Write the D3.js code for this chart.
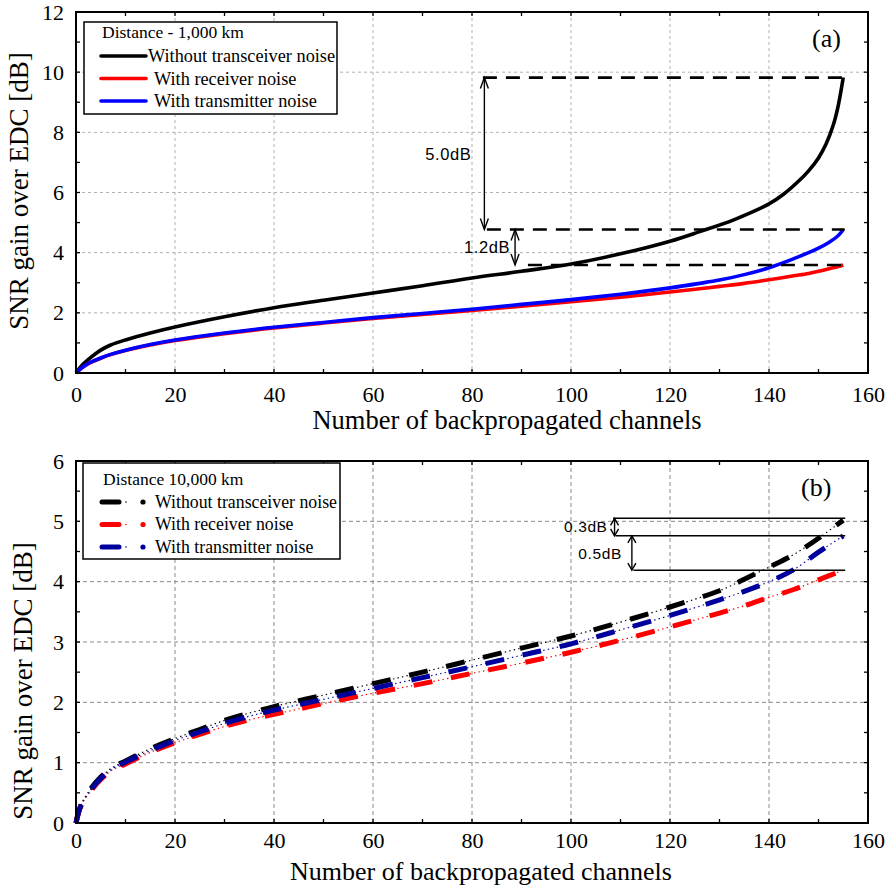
<!DOCTYPE html>
<html><head><meta charset="utf-8">
<script src="https://cdn.jsdelivr.net/npm/d3@7"></script>
<style>body{margin:0;background:#fff}svg{display:block}</style>
</head><body><svg id="c" width="891" height="888"></svg>
<script>
// ---------- Data ----------
// Panel (a): Distance 1,000 km
const xAWithout = [0,1,2,3,5,7,10,15,20,30,40,50,60,70,80,90,100,110,120,126,133,140,143,146,148,150,151.5,153,154,155];
const aWithout  = [0,0.22,0.38,0.52,0.76,0.93,1.1,1.33,1.53,1.87,2.17,2.42,2.66,2.9,3.16,3.38,3.62,3.96,4.38,4.7,5.1,5.62,5.95,6.38,6.72,7.15,7.6,8.25,8.9,9.82];
const xANoise = [0,1,2,3,5,7,10,15,20,30,40,50,60,70,80,90,100,110,120,126,130,135,140,145,148,150,152,154,155];
const aReceiver    = [0,0.15,0.26,0.35,0.49,0.61,0.75,0.93,1.08,1.31,1.5,1.66,1.81,1.95,2.08,2.22,2.37,2.52,2.69,2.8,2.88,2.98,3.1,3.23,3.31,3.38,3.46,3.54,3.59];
const aTransmitter = [0,0.15,0.27,0.36,0.5,0.62,0.76,0.95,1.1,1.33,1.52,1.68,1.84,1.98,2.12,2.28,2.44,2.62,2.83,2.98,3.09,3.27,3.5,3.8,4.0,4.15,4.33,4.57,4.77];

// Panel (b): Distance 10,000 km
const xB = [0,1,3,5,7,10,15,20,25,30,35,40,50,60,70,80,90,100,110,120,130,135,140,145,150,155];
const bWithout     = [0,0.3,0.57,0.76,0.9,1.03,1.23,1.4,1.55,1.7,1.82,1.93,2.12,2.31,2.5,2.7,2.9,3.1,3.33,3.58,3.85,4.04,4.24,4.45,4.72,5.02];
const bReceiver    = [0,0.28,0.53,0.72,0.86,0.98,1.17,1.33,1.47,1.6,1.71,1.8,1.98,2.15,2.31,2.48,2.65,2.83,3.03,3.25,3.48,3.6,3.74,3.87,4.03,4.19];
const bTransmitter = [0,0.29,0.55,0.74,0.88,1.01,1.2,1.37,1.51,1.65,1.77,1.87,2.05,2.23,2.41,2.59,2.78,2.97,3.2,3.44,3.7,3.84,4.0,4.2,4.49,4.76];

const seriesNames = ["Without transceiver noise","With receiver noise","With transmitter noise"];
const xTicks = [0,20,40,60,80,100,120,140,160];
const yTicksA = [0,2,4,6,8,10,12];
const yTicksB = [0,1,2,3,4,5,6];

// annotation levels (dB) and x positions
const annA = {levels:[9.82,4.77,3.59], starts:[82.2,83,91.3], end:155.3, arrows:[{x:82.5,from:9.82,to:4.77,label:"5.0dB"},{x:88.7,from:4.77,to:3.59,label:"1.2dB"}]};
const annB = {levels:[5.05,4.76,4.19], starts:[108.5,109,112.6], end:155.4, arrows:[{x:108.8,from:5.05,to:4.76,label:"0.3dB"},{x:112.3,from:4.76,to:4.19,label:"0.5dB"}]};

// ---------- Drawing ----------
const svg = d3.select("#c");
const serif = "'Liberation Serif','Times New Roman',serif";
const sans = "'Liberation Sans',Arial,sans-serif";

function panel(cfg){
  const x = d3.scaleLinear().domain([0,160]).range([76,868]);
  const y = d3.scaleLinear().domain([0,cfg.ymax]).range([cfg.bottom,cfg.top]);
  const g = svg.append("g");
  const grid = g.append("g").attr("stroke",cfg.gridColor).attr("stroke-width",1).attr("stroke-dasharray",cfg.gridDash).attr("fill","none");
  xTicks.slice(1,-1).forEach(v=>grid.append("line").attr("x1",x(v)).attr("x2",x(v)).attr("y1",cfg.top).attr("y2",cfg.bottom));
  cfg.yTicks.slice(1,-1).forEach(v=>grid.append("line").attr("x1",76).attr("x2",868).attr("y1",y(v)).attr("y2",y(v)));
  const tk = g.append("g").attr("stroke","#000").attr("stroke-width",1.3);
  for(let v=10; v<160; v+=10){
    tk.append("line").attr("x1",x(v)).attr("x2",x(v)).attr("y1",cfg.bottom).attr("y2",cfg.bottom-4);
    tk.append("line").attr("x1",x(v)).attr("x2",x(v)).attr("y1",cfg.top).attr("y2",cfg.top+4);
  }
  for(let v=cfg.minor; v<cfg.ymax; v+=cfg.minor){
    tk.append("line").attr("x1",76).attr("x2",80).attr("y1",y(v)).attr("y2",y(v));
    tk.append("line").attr("x1",868).attr("x2",864).attr("y1",y(v)).attr("y2",y(v));
  }
  const ax = g.append("g").attr("transform",`translate(0,${cfg.bottom})`).call(d3.axisBottom(x).tickValues(xTicks).tickSize(0).tickPadding(cfg.xPad).tickFormat(d3.format("d")));
  ax.select(".domain").remove();
  ax.selectAll("text").attr("font-family",serif).attr("font-size",22).attr("fill","#000");
  const ay = g.append("g").attr("transform",`translate(76,0)`).call(d3.axisLeft(y).tickValues(cfg.yTicks).tickSize(0).tickPadding(12).tickFormat(d3.format("d")));
  ay.select(".domain").remove();
  ay.selectAll("text").attr("font-family",serif).attr("font-size",22).attr("fill","#000");
  g.append("text").attr("x",cfg.xtX).attr("y",cfg.xtY).attr("text-anchor","middle").attr("font-family",serif).attr("font-size",cfg.xtSize).text("Number of backpropagated channels");
  g.append("text").attr("transform",`translate(${cfg.ytX},${cfg.ytY}) rotate(-90)`).attr("text-anchor","middle").attr("font-family",serif).attr("font-size",27).text("SNR gain over EDC [dB]");
  return {x,y,g};
}

function arrow(P,a,labDx,labDy,fs,hl){
  const xx=P.x(a.x), y1=P.y(a.from), y2=P.y(a.to);
  const g=P.g.append("g").attr("stroke","#000").attr("stroke-width",1.4).attr("fill","none");
  g.append("line").attr("x1",xx).attr("x2",xx).attr("y1",y1).attr("y2",y2);
  const h=Math.min(hl,(y2-y1)/2.2);
  g.append("path").attr("d",`M${xx-4},${y1+h}L${xx},${y1}L${xx+4},${y1+h}`);
  g.append("path").attr("d",`M${xx-4},${y2-h}L${xx},${y2}L${xx+4},${y2-h}`);
  P.g.append("text").attr("x",xx+labDx).attr("y",(y1+y2)/2+labDy).attr("text-anchor","end").attr("font-family",sans).attr("font-size",fs).attr("letter-spacing",0.6).attr("fill","#000").text(a.label);
}

// ---- Panel (a) ----
const A = panel({top:12,bottom:373,ymax:12,yTicks:yTicksA,minor:1,gridColor:"#b0b0b0",gridDash:"3,3",xPad:13,xtX:507,xtY:429,xtSize:26.5,ytX:28,ytY:191});
const curveA = d3.curveCatmullRom.alpha(0.5);
[[xAWithout,aWithout,"#000"],[xANoise,aReceiver,"#ff0000"],[xANoise,aTransmitter,"#0000ff"]].forEach(([xs,s,c])=>{
  const ln = d3.line().x((d,i)=>A.x(xs[i])).y(d=>A.y(d)).curve(curveA);
  A.g.append("path").attr("d",ln(s)).attr("fill","none").attr("stroke",c).attr("stroke-width",3.6).attr("stroke-linejoin","round");
});
annA.levels.forEach((l,i)=>{
  A.g.append("line").attr("x1",A.x(annA.starts[i])).attr("x2",A.x(annA.end)).attr("y1",A.y(l)).attr("y2",A.y(l))
   .attr("stroke","#000").attr("stroke-width",2.6).attr("stroke-dasharray","14,9");
});
arrow(A,annA.arrows[0],-13,6,16.5,11);
arrow(A,annA.arrows[1],-5,6,16.5,11);
A.g.append("rect").attr("x",76).attr("y",12).attr("width",792).attr("height",361).attr("fill","none").attr("stroke","#000").attr("stroke-width",2);
A.g.append("text").attr("x",812).attr("y",47).attr("font-family",serif).attr("font-size",26).text("(a)");
const La = A.g.append("g");
La.append("rect").attr("x",84).attr("y",22).attr("width",253).attr("height",92).attr("fill","#fff").attr("stroke","#000").attr("stroke-width",1.5);
La.append("text").attr("x",102).attr("y",38).attr("font-family",serif).attr("font-size",17.5).text("Distance - 1,000 km");
[["#000",0,148],["#ff0000",1,154],["#0000ff",2,154]].forEach(([c,i,tx])=>{
  const yy=56+i*22.5;
  La.append("line").attr("x1",101).attr("x2",146).attr("y1",yy).attr("y2",yy).attr("stroke",c).attr("stroke-width",3.6).attr("stroke-linecap","round");
  La.append("text").attr("x",tx).attr("y",yy+6).attr("font-family",serif).attr("font-size",18.3).text(seriesNames[i]);
});

// ---- Panel (b) ----
const B = panel({top:461,bottom:823,ymax:6,yTicks:yTicksB,minor:0.5,gridColor:"#8a8a8a",gridDash:"4,3",xPad:9,xtX:481,xtY:880,xtSize:26,ytX:32,ytY:681});
const lineB = d3.line().x((d,i)=>B.x(xB[i])).y(d=>B.y(d)).curve(d3.curveCatmullRom.alpha(0.5));
[[bWithout,"#000"],[bReceiver,"#ff0000"],[bTransmitter,"#00009c"]].forEach(([s,c])=>{
  B.g.append("path").attr("d",lineB(s)).attr("fill","none").attr("stroke",c).attr("stroke-width",1.2).attr("stroke-dasharray","1.4,3.2");
  B.g.append("path").attr("d",lineB(s)).attr("fill","none").attr("stroke",c).attr("stroke-width",5).attr("stroke-dasharray","19,19").attr("stroke-linecap","butt");
});
annB.levels.forEach((l,i)=>{
  B.g.append("line").attr("x1",B.x(annB.starts[i])).attr("x2",B.x(annB.end)).attr("y1",B.y(l)).attr("y2",B.y(l))
   .attr("stroke","#000").attr("stroke-width",1.6);
});
arrow(B,annB.arrows[0],-7,5,15.5,7);
arrow(B,annB.arrows[1],-10,6,15.5,7);
B.g.append("rect").attr("x",76).attr("y",461).attr("width",792).attr("height",362).attr("fill","none").attr("stroke","#000").attr("stroke-width",2);
B.g.append("text").attr("x",801).attr("y",496).attr("font-family",serif).attr("font-size",26).text("(b)");
const Lb = B.g.append("g");
Lb.append("rect").attr("x",83).attr("y",463).attr("width",257).attr("height",96).attr("fill","#fff").attr("stroke","#000").attr("stroke-width",1.5);
Lb.append("text").attr("x",103).attr("y",485).attr("font-family",serif).attr("font-size",17.5).text("Distance 10,000 km");
[["#000",0],["#ff0000",1],["#00009c",2]].forEach(([c,i])=>{
  const yy=502+i*22.5;
  Lb.append("line").attr("x1",102).attr("x2",119).attr("y1",yy).attr("y2",yy).attr("stroke",c).attr("stroke-width",5).attr("stroke-linecap","round");
  Lb.append("circle").attr("cx",126).attr("cy",yy).attr("r",0.8).attr("fill",c);
  Lb.append("circle").attr("cx",143).attr("cy",yy).attr("r",2.6).attr("fill",c);
  Lb.append("text").attr("x",155).attr("y",yy+5.5).attr("font-family",serif).attr("font-size",17.8).text(seriesNames[i]);
});
</script></body></html>
